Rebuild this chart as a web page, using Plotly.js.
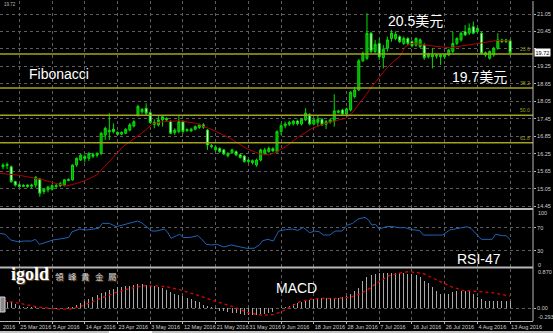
<!DOCTYPE html>
<html><head><meta charset="utf-8">
<script src="https://cdn.plot.ly/plotly-3.0.1.min.js"></script>
<style>html,body{margin:0;padding:0;background:#000;}#chart{width:553px;height:333px;}</style>
</head><body><div id="chart"></div>
<script>
// ---- data (bar index 0 = first candle) ----
const open = [15.80,15.84,15.80,15.29,15.18,15.16,15.17,15.13,15.17,15.38,
 14.95,15.01,15.03,15.12,15.15,15.17,15.33,15.35,15.86,16.03,
 16.15,16.09,16.22,16.20,16.26,16.89,17.00,17.09,16.98,16.92,
 16.95,17.06,17.20,17.58,17.69,17.81,17.66,17.33,17.24,17.41,
 17.46,17.35,16.97,17.01,17.35,17.04,17.03,17.09,17.15,17.24,
 17.06,16.49,16.38,16.43,16.38,16.18,16.28,16.32,16.21,16.17,
 15.98,15.94,15.86,16.03,16.26,16.32,16.42,16.32,17.01,17.21,
 17.26,17.28,17.37,17.27,17.41,17.60,17.27,17.33,17.43,17.26,
 17.33,17.37,17.67,17.75,17.61,17.75,18.21,18.44,19.44,19.53,
 20.39,19.76,20.04,19.55,19.87,20.21,20.21,20.27,20.04,20.21,
 20.10,19.98,19.93,19.98,19.58,19.58,19.60,19.58,19.58,19.64,
 19.76,20.04,20.16,20.44,20.39,20.61,20.45,20.39,19.64,19.53,
 19.64,19.87,20.16,20.10,20.13];
const high = [15.92,15.95,15.85,15.32,15.22,15.20,15.20,15.22,15.48,15.42,
 15.06,15.14,15.20,15.22,15.28,15.38,15.40,15.88,16.12,16.25,
 16.22,16.30,16.28,16.30,17.00,17.18,17.64,17.29,17.02,17.02,
 17.12,17.30,17.40,17.93,17.82,17.98,17.70,17.43,17.58,17.55,
 17.50,17.40,17.12,17.58,17.40,17.12,17.14,17.22,17.28,17.30,
 17.10,16.58,16.52,16.47,16.42,16.30,16.42,16.36,16.25,16.20,
 16.06,16.05,16.08,16.42,16.45,16.50,16.47,17.05,17.29,17.35,
 17.38,17.40,17.42,17.47,17.81,17.64,17.45,17.55,17.47,17.41,
 17.45,18.29,17.76,17.79,17.83,18.40,18.55,19.50,19.76,21.07,
 20.44,20.16,20.21,19.98,20.27,20.50,20.45,20.32,20.28,20.26,
 20.15,20.25,20.22,20.05,19.72,19.87,19.68,19.68,19.70,19.85,
 20.44,20.25,20.45,20.67,20.73,20.79,20.60,20.45,19.76,19.80,
 19.92,20.39,20.20,20.20,20.18];
const low = [15.72,15.72,15.25,15.12,15.08,15.10,15.08,15.05,15.08,14.77,
 14.86,14.92,14.98,15.06,15.10,15.12,15.30,15.32,15.80,16.00,
 15.95,16.00,16.10,16.12,16.20,16.72,16.72,16.95,16.88,16.88,
 16.92,17.02,17.15,17.52,17.62,17.55,17.28,17.12,17.18,17.18,
 17.38,16.92,16.89,16.95,16.95,17.00,17.00,17.05,17.10,17.10,
 16.38,16.43,16.32,16.28,16.20,16.12,16.25,16.16,16.08,15.94,
 15.92,15.88,15.80,15.98,16.20,16.28,16.30,16.28,16.89,17.12,
 17.20,17.22,17.22,17.22,17.37,17.22,17.22,17.18,17.20,17.10,
 17.28,17.18,17.63,17.56,17.56,17.70,18.15,18.40,19.40,19.47,
 19.70,19.70,19.47,19.18,19.76,20.10,20.15,20.05,19.98,19.98,
 19.90,19.93,19.88,19.47,19.52,19.18,19.52,19.30,19.50,19.60,
 19.70,19.98,20.10,20.30,20.33,20.35,20.40,19.65,19.58,19.48,
 19.58,19.82,20.05,20.05,19.62];
const close = [15.86,15.88,15.29,15.17,15.12,15.13,15.13,15.17,15.44,14.89,
 15.03,15.10,15.15,15.15,15.22,15.35,15.36,15.86,16.09,16.20,
 16.08,16.26,16.16,16.26,16.95,17.12,17.05,17.01,16.92,16.98,
 17.09,17.24,17.35,17.87,17.77,17.64,17.32,17.26,17.41,17.52,
 17.41,16.95,17.06,17.35,17.01,17.08,17.09,17.18,17.24,17.16,
 16.55,16.52,16.47,16.32,16.24,16.26,16.38,16.21,16.12,15.98,
 16.03,16.01,16.03,16.38,16.38,16.43,16.35,17.01,17.21,17.27,
 17.33,17.37,17.28,17.43,17.64,17.27,17.41,17.43,17.24,17.35,
 17.41,17.72,17.72,17.61,17.79,18.36,18.44,19.44,19.70,20.39,
 19.76,20.01,19.58,19.84,20.16,20.39,20.35,20.10,20.21,20.04,
 19.96,20.21,20.16,19.55,19.66,19.64,19.63,19.64,19.66,19.81,
 20.04,20.21,20.39,20.33,20.56,20.39,20.55,19.70,19.72,19.76,
 19.87,20.16,20.10,20.16,19.72];
const barIdx = open.map((_, i) => i);

// moving average (red) read at sample bars
const maX = [-0.7,3.3,5.8,8.2,9.9,12.3,15.6,18.0,20.5,22.9,24.5,26.2,27.8,29.4,31.9,33.9,36.7,39.2,43.3,47.3,51.4,55.5,59.5,62.8,65.0,66.2,69.1,72.3,75.6,78.8,82.1,83.7,85.3,86.9,88.6,90.2,91.8,93.4,95.4,97.0,98.4,100.0,102.0,104.5,106.9,109.4,111.8,114.3,116.7,119.2,120.8,122.9,124];
const maY = [15.57,15.52,15.46,15.40,15.35,15.25,15.14,15.23,15.35,15.52,15.75,16.0,16.25,16.5,16.75,16.95,17.29,17.35,17.38,17.29,17.06,16.78,16.43,16.24,16.21,16.26,16.49,16.83,17.12,17.29,17.41,17.46,17.64,17.92,18.24,18.55,18.84,19.12,19.41,19.58,19.93,20.04,20.01,19.96,19.92,19.89,19.94,20.01,20.06,20.10,20.14,20.14,20.13];

// Fibonacci levels
const fibLevels = [19.675, 18.51, 17.569, 16.628];
const fibNames = ['23.6', '38.2', '50.0', '61.8'];

// RSI
const rsiX = [-0.7,0.56,1.85,3.6,5.3,7.0,7.9,8.9,10.5,12.2,13.9,16.1,16.9,18.7,20.4,21.7,23.4,24.3,26.0,27.7,29.5,31.2,32.9,33.8,35.1,36.4,37.6,39.4,40.2,41.1,42.4,43.2,44.1,45.8,47.6,48.4,49.7,51.0,52.3,54.0,55.8,57.5,59.6,61.4,62.7,63.5,64.8,66.1,67.4,69.1,70.8,72.1,73.4,75.0,76.2,77.3,78.4,79.9,81.2,82.9,84.2,85.5,86.8,88.5,89.4,90.2,91.1,92.0,93.7,95.0,96.7,98.4,99.7,101.9,102.8,105.3,107.5,109.2,111.4,113.5,114.4,115.7,117.0,119.6,120.4,122.2,123.0,124.1];
const rsiY = [60.3,58.6,48.9,46,47.1,47.1,50,41.4,44.9,48.9,50.6,53.4,63,67.7,66,67.7,68.9,77.4,77.4,71.7,74.6,78.6,81.4,79.1,71.7,64.3,64.3,67.7,63,51.7,56.3,58.6,52.9,53.4,56.3,51.7,41.4,40.3,41.4,36.9,40.3,37.4,34.6,34.6,40.3,47.7,50,47.1,64.3,66.6,67.7,65.4,70.6,61.4,64.3,63,57.4,57.4,64.3,64.3,74.6,77.4,84.9,87.7,83.1,74.6,75.7,67.7,71.7,72.3,70,70,67.1,64.9,57.4,57.4,57.4,66,68.9,71.7,68.9,60.3,50,50,58.6,56.3,56.3,48.9];

// MACD histogram (one per bar) and signal line
const macdHist = [0.15,0.14,0.13,0.10,0.06,0.04,0.03,0.02,0.02,0.01,
 0.00,0.01,0.00,-0.01,0.00,0.01,0.02,0.04,0.07,0.12,
 0.17,0.21,0.25,0.30,0.34,0.37,0.41,0.44,0.47,0.48,
 0.49,0.50,0.52,0.54,0.54,0.53,0.51,0.49,0.47,0.45,
 0.42,0.36,0.32,0.30,0.27,0.23,0.20,0.17,0.13,0.08,
 0.06,0.03,-0.02,-0.05,-0.07,-0.08,-0.10,-0.11,-0.12,-0.14,
 -0.14,-0.15,-0.15,-0.13,-0.12,-0.10,-0.08,-0.06,0.02,0.04,
 0.06,0.09,0.12,0.15,0.17,0.19,0.21,0.22,0.22,0.22,
 0.22,0.23,0.24,0.25,0.27,0.31,0.38,0.46,0.60,0.70,
 0.75,0.77,0.78,0.78,0.78,0.78,0.78,0.78,0.78,0.77,
 0.76,0.74,0.69,0.62,0.56,0.47,0.38,0.33,0.31,0.33,
 0.36,0.38,0.39,0.39,0.38,0.33,0.25,0.20,0.17,0.17,
 0.16,0.17,0.17,0.16,0.16];
const sigX = [0.2,2.5,8.2,13.1,16.4,18.8,22.9,27,31.1,34.3,37.6,40,43.3,47.4,51.4,56.3,60.4,63.7,66.0,68.0,70.2,72.6,75.1,77.5,81.6,84.8,87.3,89.8,90.7,94.1,97.6,99.3,102.7,106.2,109.7,112.5,116,119.5,122.5,124];
const sigY = [0.17,0.14,0.036,-0.02,-0.02,0.036,0.185,0.335,0.447,0.50,0.50,0.484,0.41,0.298,0.171,0.036,-0.113,-0.155,-0.14,-0.08,0.03,0.15,0.20,0.22,0.22,0.245,0.32,0.45,0.52,0.72,0.80,0.82,0.78,0.63,0.48,0.40,0.37,0.35,0.30,0.27];

// axis ticks
const dateTickBars = [4,12,20,28,36,44,52,60,68,76,84,92,100,108,116,124];
const dateTickText = ['25 Mar 2016','5 Apr 2016','14 Apr 2016','23 Apr 2016','3 May 2016','12 May 2016','21 May 2016','31 May 2016','9 Jun 2016','18 Jun 2016','28 Jun 2016','7 Jul 2016','16 Jul 2016','26 Jul 2016','4 Aug 2016','13 Aug 2016'];
const firstDateTail = '2016';   // visible tail of the clipped first date label
const priceTicks = [21.05,20.45,19.85,19.25,18.65,18.05,17.45,16.85,16.25,15.65,15.05,14.45];
const priceTickText = ['21.05','20.45','','19.25','18.65','18.05','17.45','16.85','16.25','15.65','15.05','14.45'];
const lastPrice = 19.72;

// ---- layout helpers (pixels -> paper) ----
const H = 333, B = 12, T = 1, PH = H - B - T, PW = 533;
const py = y => (H - B - y) / PH;
const px = x => x / PW;

const axisFont = {family: 'Liberation Sans, Arial, sans-serif', size: 5.5, color: '#cfcfcf'};
const grid = {showgrid: true, gridcolor: '#5e5e5e', griddash: 'dot', gridwidth: 1, zeroline: false, fixedrange: true};

const traces = [
  {type: 'candlestick', x: barIdx, open: open, high: high, low: low, close: close,
   xaxis: 'x', yaxis: 'y', whiskerwidth: 0, hoverinfo: 'skip', showlegend: false,
   increasing: {line: {color: '#00e000', width: 1}, fillcolor: '#139613'},
   decreasing: {line: {color: '#00e000', width: 1}, fillcolor: '#ffffff'}},
  {type: 'scatter', mode: 'lines', x: maX, y: maY, xaxis: 'x', yaxis: 'y',
   line: {color: '#b30000', width: 1}, hoverinfo: 'skip', showlegend: false},
  {type: 'scatter', mode: 'lines', x: rsiX, y: rsiY, xaxis: 'x', yaxis: 'y2',
   line: {color: '#1f63b8', width: 1}, hoverinfo: 'skip', showlegend: false},
  {type: 'bar', x: barIdx, y: macdHist, xaxis: 'x', yaxis: 'y3', width: 0.24,
   marker: {color: '#a9a9a9', line: {width: 0}}, hoverinfo: 'skip', showlegend: false},
  {type: 'scatter', mode: 'lines', x: sigX, y: sigY, xaxis: 'x', yaxis: 'y3',
   line: {color: '#e00000', width: 1.3, dash: 'dot'}, hoverinfo: 'skip', showlegend: false}
];

const shapes = [];
fibLevels.forEach(v => shapes.push({type: 'line', xref: 'paper', yref: 'y', x0: 0, x1: 1, y0: v, y1: v,
  line: {color: '#a3a31e', width: 1.5}}));
// panel separators and borders
[[209, '#b8b8b8'], [267.5, '#b8b8b8']].forEach(([y, c]) => shapes.push({type: 'line', xref: 'paper', yref: 'paper',
  x0: 0, x1: 1, y0: py(y), y1: py(y), line: {color: c, width: 2}}));
shapes.push({type: 'line', xref: 'paper', yref: 'paper', x0: 1, x1: 1, y0: 0, y1: 1, line: {color: '#b8b8b8', width: 1}});
// window strip at the very bottom
shapes.push({type: 'rect', xref: 'paper', yref: 'paper', x0: 0, x1: px(553), y0: py(333), y1: py(331),
  fillcolor: '#c4c4c4', line: {width: 0}});
shapes.push({type: 'rect', xref: 'paper', yref: 'paper', x0: px(109), x1: px(152), y0: py(333), y1: py(331),
  fillcolor: '#ffffff', line: {width: 0}});
// small widget at left of MACD panel
shapes.push({type: 'rect', xref: 'paper', yref: 'paper', x0: 0, x1: px(5), y0: py(312), y1: py(297),
  fillcolor: '#8a8a8a', line: {color: '#d0d0d0', width: 1}});

const txt = (text, x, y, size, extra) => Object.assign({text: text, xref: 'paper', yref: 'paper', x: px(x), y: py(y),
  showarrow: false, xanchor: 'center', yanchor: 'middle',
  font: {family: 'Liberation Sans, Arial, Noto Sans CJK SC, sans-serif', size: size, color: '#ffffff'}}, extra || {});

const annotations = [
  txt('Fibonacci', 58.8, 73.5, 14),
  txt('20.5美元', 415, 21, 14),
  txt('19.7美元', 479.5, 77, 14),
  txt('RSI-47', 479.5, 258.5, 14),
  txt('MACD', 296, 287.5, 14),
  txt('<b>igold</b>', 9, 274, 18, {xanchor: 'left',
     font: {family: 'Liberation Serif, DejaVu Serif, serif', size: 18, color: '#ffffff', shadow: '1px 1px 1px #7a5630'}}),
  txt('19.72', 2, 4.5, 4.5, {xanchor: 'left', font: {family: 'Liberation Sans, Arial', size: 4.5, color: '#bdbdbd'}}),
  // right-axis edge labels of the indicator panels
  txt('100', 536, 213, 5.5, {xanchor: 'left', font: axisFont}),
  txt('0', 536, 264.5, 5.5, {xanchor: 'left', font: axisFont}),
  txt('0.870', 536, 271.5, 5.5, {xanchor: 'left', font: axisFont}),
  txt('-0.293', 536, 316.5, 5.5, {xanchor: 'left', font: axisFont}),
  txt(firstDateTail, 1, 326.5, 5.5, {xanchor: 'left', font: axisFont}),
  // current price box
  {text: '19.72', xref: 'paper', yref: 'y', x: 1, y: lastPrice, xanchor: 'left', yanchor: 'middle', xshift: 1,
   showarrow: false, bgcolor: '#ffffff', borderpad: 0.5,
   font: {family: 'Liberation Sans, Arial', size: 5.5, color: '#000000'}}
];
['領', '峰', '貴', '金', '屬'].forEach((c, k) => annotations.push(
  txt(c, 59 + k * 13.4, 275.5, 8.5, {font: {family: 'Noto Sans CJK TC, sans-serif', size: 8.5, color: '#d6d6d6', shadow: '1px 1px 1px #6b4a2a'}})));
fibLevels.forEach((v, k) => annotations.push({text: fibNames[k], xref: 'paper', yref: 'y', x: 1, y: v,
  xanchor: 'right', yanchor: 'bottom', xshift: -1, yshift: 0, showarrow: false,
  font: {family: 'Liberation Sans, Arial', size: 5, color: '#a3a31e'}}));

const layout = {
  width: 553, height: 333,
  margin: {l: 0, r: 20, t: T, b: B, pad: 0},
  paper_bgcolor: '#000000', plot_bgcolor: '#000000',
  font: {family: 'Liberation Sans, Arial, sans-serif', color: '#cfcfcf'},
  showlegend: false, bargap: 0,
  xaxis: Object.assign({}, grid, {range: [-0.733, 129.6], anchor: 'y3',
    tickmode: 'array', tickvals: dateTickBars, ticktext: dateTickText, tickangle: 0,
    ticklabelposition: 'outside right', tickfont: axisFont,
    ticks: 'outside', ticklen: 2, tickcolor: '#b8b8b8',
    showline: true, linecolor: '#b8b8b8', linewidth: 1,
    rangeslider: {visible: false}}),
  yaxis: Object.assign({}, grid, {domain: [py(208), py(1)], range: [14.383, 21.497], side: 'right', anchor: 'x',
    tickmode: 'array', tickvals: priceTicks, ticktext: priceTickText, tickfont: axisFont,
    ticks: 'outside', ticklen: 2, tickcolor: '#b8b8b8'}),
  yaxis2: Object.assign({}, grid, {domain: [py(267), py(210)], range: [2.5, 100.4], side: 'right', anchor: 'x',
    tickmode: 'array', tickvals: [70, 30], ticktext: ['70', '30'], tickfont: axisFont,
    ticks: 'outside', ticklen: 2, tickcolor: '#b8b8b8'}),
  yaxis3: Object.assign({}, grid, {domain: [0, py(269)], range: [-0.284, 0.879], side: 'right', anchor: 'x',
    tickmode: 'array', tickvals: [0], ticktext: ['0.00'], tickfont: axisFont,
    ticks: 'outside', ticklen: 2, tickcolor: '#b8b8b8'}),
  shapes: shapes,
  annotations: annotations
};

Plotly.newPlot('chart', traces, layout, {staticPlot: true, displayModeBar: false});
</script></body></html>
